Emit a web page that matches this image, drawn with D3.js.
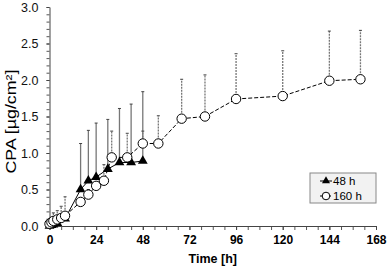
<!DOCTYPE html>
<html>
<head>
<meta charset="utf-8">
<script src="https://cdn.jsdelivr.net/npm/d3@7"></script>
<style>
  body { margin: 0; background: #fff; }
  svg { font-family: "Liberation Sans", Arial, sans-serif; }
</style>
</head>
<body>
<svg id="chart" width="387" height="269"></svg>
<script>
// 48 h series (filled triangles)
const time48 = [0, 1, 2, 4, 8, 16, 20, 24, 30, 36, 42, 48];
const cpa48 = [0, 0.01, 0.02, 0.04, 0.1, 0.5, 0.62, 0.67, 0.78, 0.87, 0.87, 0.89];
const sd48 = [0, 0.01, 0.02, 0.03, 0.05, 0.63, 0.69, 0.74, 0.68, 0.74, 0.8, 0.95];

// 160 h series (open circles)
const time160 = [0, 1, 2, 4, 6, 8, 16, 20, 24, 28, 32, 40, 48, 56, 68, 80, 96, 120, 144, 160];
const cpa160 = [0.03, 0.05, 0.07, 0.09, 0.11, 0.14, 0.33, 0.43, 0.55, 0.62, 0.94, 0.94, 1.13, 1.13, 1.47, 1.5, 1.74, 1.78, 1.99, 2.01];
const sd160 = [0.02, 0.05, 0.11, 0.12, 0.16, 0.26, 0.05, 0.07, 0.05, 0.22, 0.36, 0.33, 0.17, 0.38, 0.54, 0.57, 0.62, 0.62, 0.68, 0.67];

const xTicks = [0, 24, 48, 72, 96, 120, 144, 168];
const yTicks = [0, 0.5, 1, 1.5, 2, 2.5, 3];
const legendLabels = ['48 h', '160 h'];

const mLeft = 49.5, mRight = 376, mTop = 7, mBottom = 226;

const x = d3.scaleLinear().domain([0, 168]).range([mLeft, mRight]);
const y = d3.scaleLinear().domain([0, 3]).range([mBottom, mTop]);

const svg = d3.select('#chart');

const data48 = time48.map((t, i) => ({ t, v: cpa48[i], sd: sd48[i] }));
const data160 = time160.map((t, i) => ({ t, v: cpa160[i], sd: sd160[i] }));

// minor ticks
svg.append('g')
  .attr('transform', `translate(0, ${mBottom})`)
  .call(d3.axisBottom(x).tickValues(d3.range(0, 169, 6)).tickSize(4).tickFormat(''))
  .call(g => g.select('.domain').remove())
  .selectAll('line').attr('stroke', '#555');

svg.append('g')
  .attr('transform', `translate(${mLeft}, 0)`)
  .call(d3.axisLeft(y).tickValues(d3.range(0, 31).map(d => d / 10)).tickSize(3).tickFormat(''))
  .call(g => g.select('.domain').remove())
  .selectAll('line').attr('stroke', '#555');

// axes
const xAxis = svg.append('g')
  .attr('transform', `translate(0, ${mBottom})`)
  .call(d3.axisBottom(x).tickValues(xTicks).tickSize(4).tickSizeOuter(0).tickPadding(5));
xAxis.select('.domain').attr('stroke', '#444');
xAxis.selectAll('line').attr('stroke', '#444');
xAxis.selectAll('text').attr('font-size', 12).attr('font-weight', 'bold').attr('fill', '#000')
  .attr('font-family', '"Liberation Sans", Arial, sans-serif');

const yAxis = svg.append('g')
  .attr('transform', `translate(${mLeft}, 0)`)
  .call(d3.axisLeft(y).tickValues(yTicks).tickSize(3).tickSizeOuter(0).tickPadding(8).tickFormat(d3.format('.1f')));
yAxis.select('.domain').attr('stroke', '#444');
yAxis.selectAll('line').attr('stroke', '#444');
yAxis.selectAll('text').attr('font-size', 12.5).attr('fill', '#111')
  .attr('font-family', '"Liberation Sans", Arial, sans-serif');

// axis titles
svg.append('text')
  .text('Time [h]')
  .attr('x', (mLeft + mRight) / 2)
  .attr('y', 263)
  .attr('text-anchor', 'middle')
  .attr('font-size', 12.5)
  .attr('font-weight', 'bold');

svg.append('text')
  .text('CPA [µg/cm²]')
  .attr('transform', `translate(16, ${(mTop + mBottom) / 2 + 5}) rotate(-90)`)
  .attr('text-anchor', 'middle')
  .attr('font-size', 14)
  .attr('textLength', 104)
  .attr('lengthAdjust', 'spacingAndGlyphs');

// error bars
const bars48 = svg.append('g');
bars48.selectAll('line')
  .data(data48.filter(d => d.sd > 0))
  .enter().append('line')
  .attr('x1', d => x(d.t)).attr('x2', d => x(d.t))
  .attr('y1', d => y(d.v)).attr('y2', d => y(d.v + d.sd))
  .attr('stroke', '#777').attr('stroke-width', 1.3);
bars48.selectAll('path')
  .data(data48.filter(d => d.sd > 0))
  .enter().append('path')
  .attr('d', d => `M${x(d.t) - 1.5},${y(d.v + d.sd)}h3`)
  .attr('stroke', '#444').attr('stroke-width', 1);

const bars160 = svg.append('g');
bars160.selectAll('line')
  .data(data160)
  .enter().append('line')
  .attr('x1', d => x(d.t)).attr('x2', d => x(d.t))
  .attr('y1', d => y(d.v)).attr('y2', d => y(d.v + d.sd))
  .attr('stroke', '#777').attr('stroke-width', 1.3).attr('stroke-dasharray', '2,1');
bars160.selectAll('path')
  .data(data160)
  .enter().append('path')
  .attr('d', d => `M${x(d.t) - 1.5},${y(d.v + d.sd)}h3`)
  .attr('stroke', '#444').attr('stroke-width', 1);

// lines
const line = d3.line().x(d => x(d.t)).y(d => y(d.v));

svg.append('path')
  .datum(data48)
  .attr('d', line)
  .attr('fill', 'none')
  .attr('stroke', '#000')
  .attr('stroke-width', 1);

svg.append('path')
  .datum(data160)
  .attr('d', line)
  .attr('fill', 'none')
  .attr('stroke', '#000')
  .attr('stroke-width', 1)
  .attr('stroke-dasharray', '4,2');

// markers
const tri = d3.symbol().type(d3.symbolTriangle).size(42);

svg.append('g')
  .selectAll('path')
  .data(data48)
  .enter().append('path')
  .attr('d', tri)
  .attr('transform', d => `translate(${x(d.t)}, ${y(d.v)})`)
  .attr('fill', '#000');

svg.append('g')
  .selectAll('circle')
  .data(data160)
  .enter().append('circle')
  .attr('cx', d => x(d.t))
  .attr('cy', d => y(d.v))
  .attr('r', 4.7)
  .attr('fill', '#fff')
  .attr('stroke', '#000')
  .attr('stroke-width', 1);

// legend
const legend = svg.append('g').attr('transform', 'translate(310, 173)');
legend.append('rect')
  .attr('width', 66).attr('height', 30)
  .attr('fill', '#f2f2f2').attr('stroke', '#888').attr('stroke-width', 1);

const legendItems = legend.selectAll('g.item')
  .data(legendLabels)
  .enter().append('g')
  .attr('class', 'item')
  .attr('transform', (d, i) => `translate(0, ${8 + i * 15})`);

legendItems.append('line')
  .attr('x1', 10).attr('x2', 22)
  .attr('stroke', '#000')
  .attr('stroke-dasharray', (d, i) => i === 0 ? null : '3,1');

legendItems.each(function (d, i) {
  const g = d3.select(this);
  if (i === 0) {
    g.append('path').attr('d', d3.symbol().type(d3.symbolTriangle).size(28))
      .attr('transform', 'translate(16, 0)').attr('fill', '#000');
  } else {
    g.append('circle').attr('cx', 16).attr('cy', 0).attr('r', 3.8)
      .attr('fill', '#fff').attr('stroke', '#000');
  }
});

legendItems.append('text')
  .text(d => d)
  .attr('x', 23)
  .attr('y', 4)
  .attr('font-size', 11.5);
</script>
</body>
</html>
